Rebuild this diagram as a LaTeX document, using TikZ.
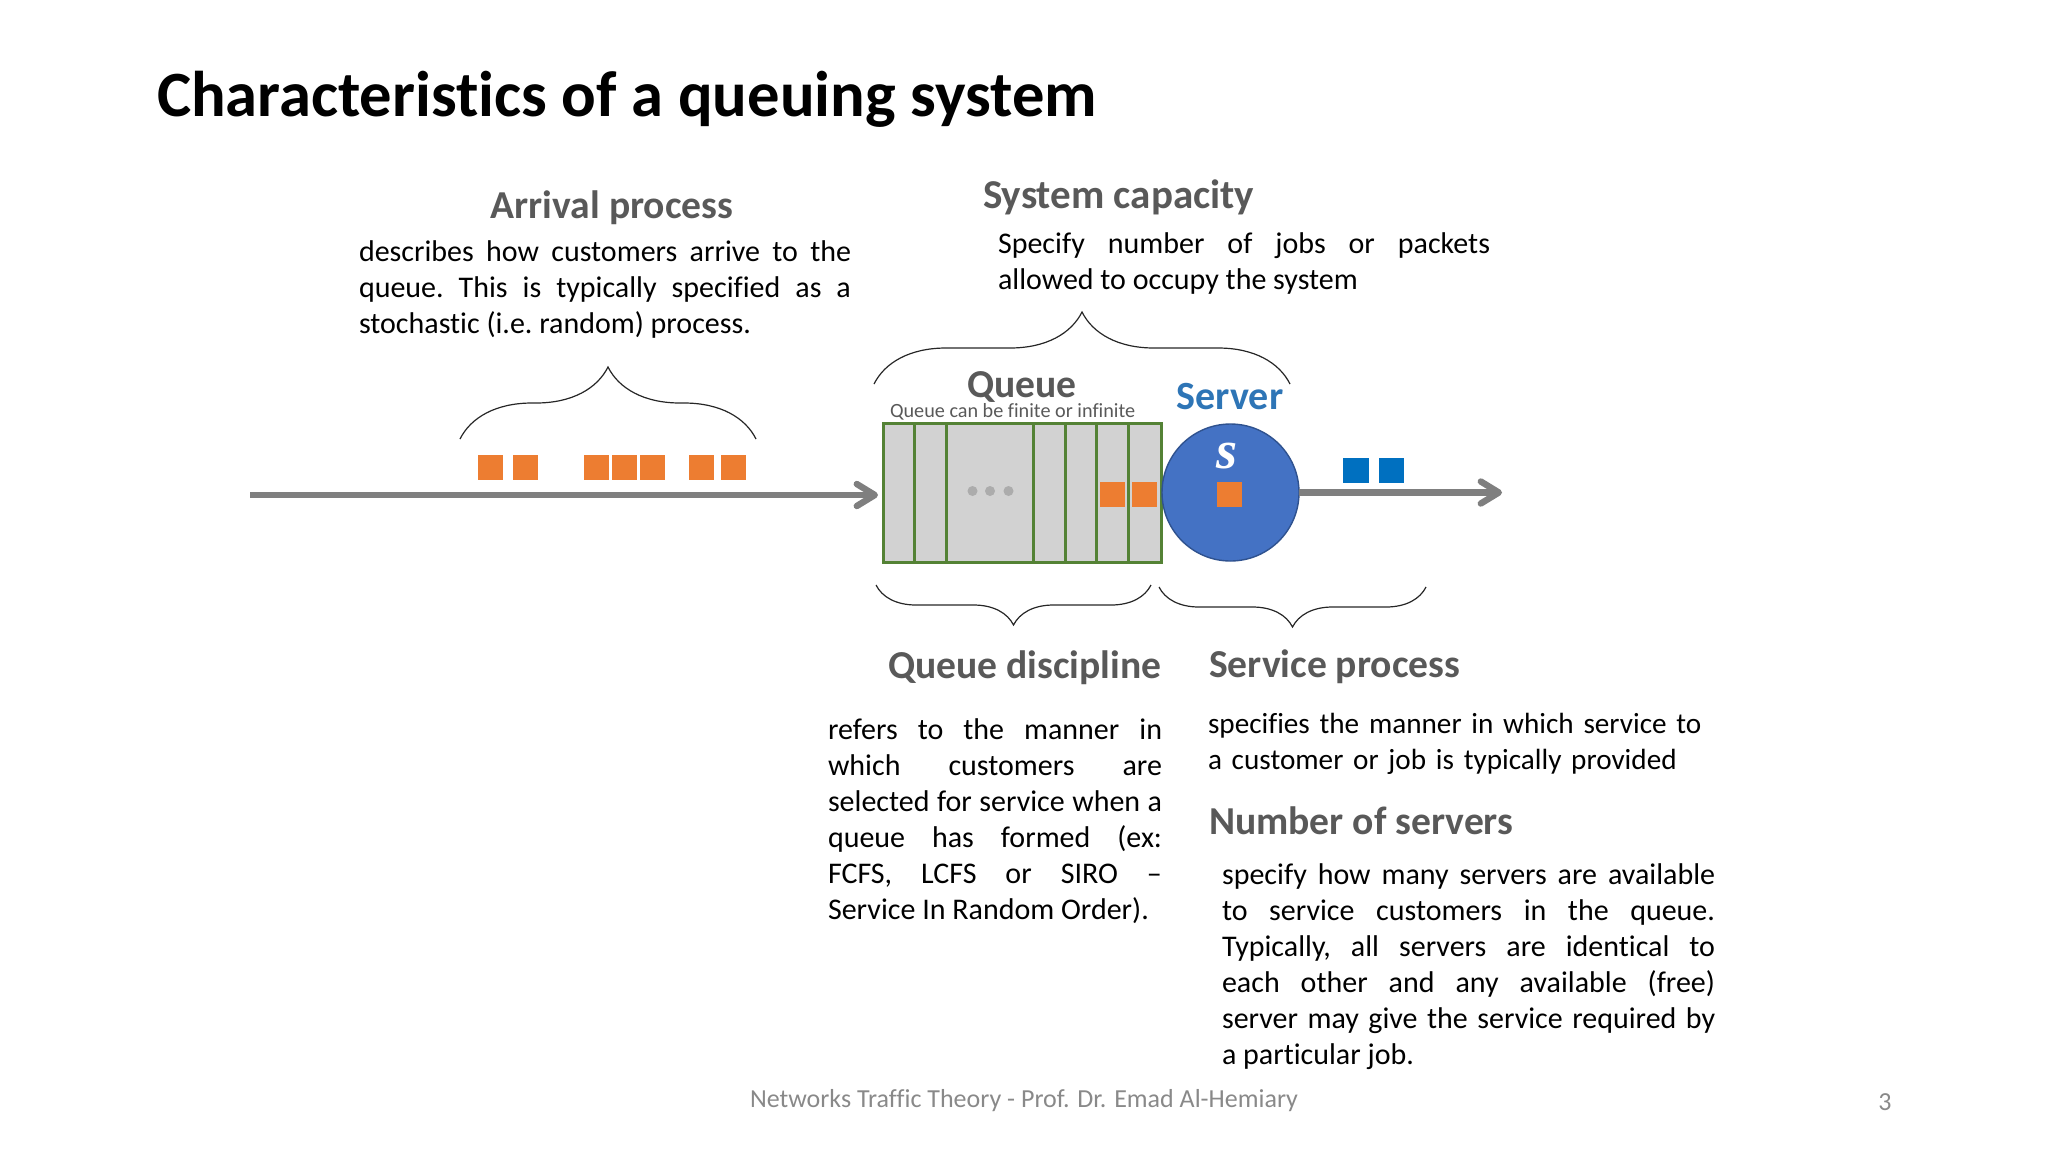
\documentclass[tikz,border=0pt]{standalone}
\usepackage{fontspec}
\setmainfont[Ligatures=NoCommon]{Carlito}
\newfontfamily\serverfont{Liberation Serif}
\usepackage{xcolor}
\usetikzlibrary{arrows.meta, positioning, decorations.pathreplacing}

\definecolor{headgray}{HTML}{595959}
\definecolor{flowgray}{HTML}{7F7F7F}
\definecolor{foot}{HTML}{898989}
\definecolor{custorange}{HTML}{ED7D31}
\definecolor{custblue}{HTML}{0070C0}
\definecolor{cellgray}{HTML}{D2D2D2}
\definecolor{cellgreen}{HTML}{548235}
\definecolor{srvblue}{HTML}{4472C4}
\definecolor{srvedge}{HTML}{2F528F}
\definecolor{srvtext}{HTML}{2E75B6}

\begin{document}
\begin{tikzpicture}[x=0.5pt, y=-0.5pt, inner sep=0pt, outer sep=0pt]
    \useasboundingbox (0,0) rectangle (2048,1152);
    \tikzstyle{heading}=[anchor=base west, text=headgray, font=\fontsize{19.8}{22}\selectfont\bfseries]
    \tikzstyle{para}=[anchor=north west, align=justify, font=\fontsize{15}{18}\selectfont\frenchspacing]
    \tikzstyle{cust}=[fill=custorange, minimum width=12.5pt, minimum height=12.5pt]
    \tikzstyle{done}=[fill=custblue, minimum width=12.7pt, minimum height=12.5pt]
    \tikzstyle{cell}=[draw=cellgreen, fill=cellgray, line width=1.5pt, minimum height=69.5pt]
    \tikzstyle{dot}=[circle, fill=gray!65, minimum size=5pt]
    \tikzstyle{flow}=[draw=flowgray, line width=3.2pt, -{Straight Barb[round, length=9pt, width=11pt]}]
    \tikzstyle{curly}=[draw=black!85, line width=0.6pt, decorate]

    % title and footer
    \node[anchor=base west, font=\fontsize{32.3}{36}\selectfont\bfseries] (title) at (157,116.5) {Characteristics of a queuing system};
    \node[anchor=base, text=foot, font=\fontsize{13}{15}\selectfont] (footer) at (1024,1107) {Networks Traffic Theory - Prof. Dr. Emad Al-Hemiary};
    \node[anchor=base, text=foot, font=\fontsize{13}{15}\selectfont] (pagenum) at (1885,1110) {3};

    % queue cells
    \foreach \l/\r [count=\i] in {883/914, 914/946, 946/1033, 1033/1065, 1065/1096, 1096/1128, 1128/1161}
      \node[cell, minimum width={(\r-\l)*0.5pt}] (cell\i) at ({(\l+\r)/2},492.5) {};
    \node[dot] (dotA) at (972.5,491) {};
    \node[dot] (dotB) at (990,491) {};
    \node[dot] (dotC) at (1008.5,491) {};

    % server
    \node[circle, draw=srvedge, fill=srvblue, line width=0.7pt, minimum size=68.5pt] (server) at (1230.5,492.5) {};
    \node[anchor=base, text=white, font=\fontsize{27}{30}\serverfont\bfseries\itshape] (srvS) at (1227,468) {s};

    % customers
    \foreach \x [count=\i] in {490, 525.5, 596.5, 624.7, 652.5, 701, 733}
      \node[cust] (arr\i) at (\x,467.8) {};
    \node[cust] (wait1) at (1112,494.5) {};
    \node[cust] (wait2) at (1144.5,494.5) {};
    \node[cust] (serving) at (1229,494.5) {};
    \node[done] (out1) at (1356,470.5) {};
    \node[done] (out2) at (1391.5,470.5) {};

    % flows
    \coordinate (arrivalin) at (250,495);
    \coordinate (serverout) at (1502,492.5);
    \draw[flow, shorten >=2.5pt] (arrivalin) -- (arrivalin -| cell1.west);
    \draw[flow] (server.east) -- (serverout);

    % braces
    \coordinate (arrL) at (460,439);
    \coordinate (arrR) at (756,439);
    \coordinate (capL) at (874,384);
    \coordinate (capR) at (1290,384);
    \coordinate (disL) at (876,585);
    \coordinate (disR) at (1151,585);
    \coordinate (svcL) at (1159,587);
    \coordinate (svcR) at (1426,587);
    \draw[curly, decoration={brace, amplitude=36pt}] (arrL) -- (arrR);
    \draw[curly, decoration={brace, amplitude=36pt}] (capL) -- (capR);
    \draw[curly, decoration={brace, mirror, amplitude=20pt}] (disL) -- (disR);
    \draw[curly, decoration={brace, mirror, amplitude=20pt}] (svcL) -- (svcR);

    % labels
    \node[heading, anchor=base] (arrivalhead) at (612,218) {Arrival process};
    \node[heading, font=\fontsize{20.5}{22}\selectfont\bfseries] (caphead) at (983,208.5) {System capacity};
    \node[heading, anchor=base] (queuelabel) at (1022,397) {Queue};
    \node[anchor=base west, text=headgray, font=\fontsize{10.1}{12}\selectfont] (queuenote) at (890,417) {Queue can be finite or infinite};
    \node[heading, anchor=base, text=srvtext, font=\fontsize{20}{22}\selectfont\bfseries] (serverlabel) at (1230,409) {Server};
    \node[heading] (dischead) at (888,678) {Queue discipline};
    \node[heading] (svchead) at (1209,677) {Service process};
    \node[heading] (numhead) at (1209,834) {Number of servers};

    % descriptions
    \node[para, text width=246pt] (arrivaltext) at (359,241) {describes how customers arrive to the\linebreak queue. This is typically specified as a\linebreak stochastic (i.e. random) process.};
    \node[para, text width=246pt] (captext) at (998,233) {Specify number of jobs or packets\linebreak allowed to occupy the system};
    \node[para, text width=167pt] (disctext) at (828,719) {refers to the manner in\linebreak which customers are\linebreak selected for service when a\linebreak queue has formed (ex:\linebreak FCFS, LCFS or SIRO --\linebreak Service In Random Order).};
    \node[para, text width=254pt, align=left, font=\fontsize{14.6}{18}\selectfont] (svctext) at (1208,713) {specifies the manner in which service to\\ a customer or job is typically provided};
    \node[para, text width=246.5pt] (numtext) at (1222,864) {specify how many servers are available\linebreak to service customers in the queue.\linebreak Typically, all servers are identical to\linebreak each other and any available (free)\linebreak server may give the service required by\linebreak a particular job.};
\end{tikzpicture}
\end{document}
